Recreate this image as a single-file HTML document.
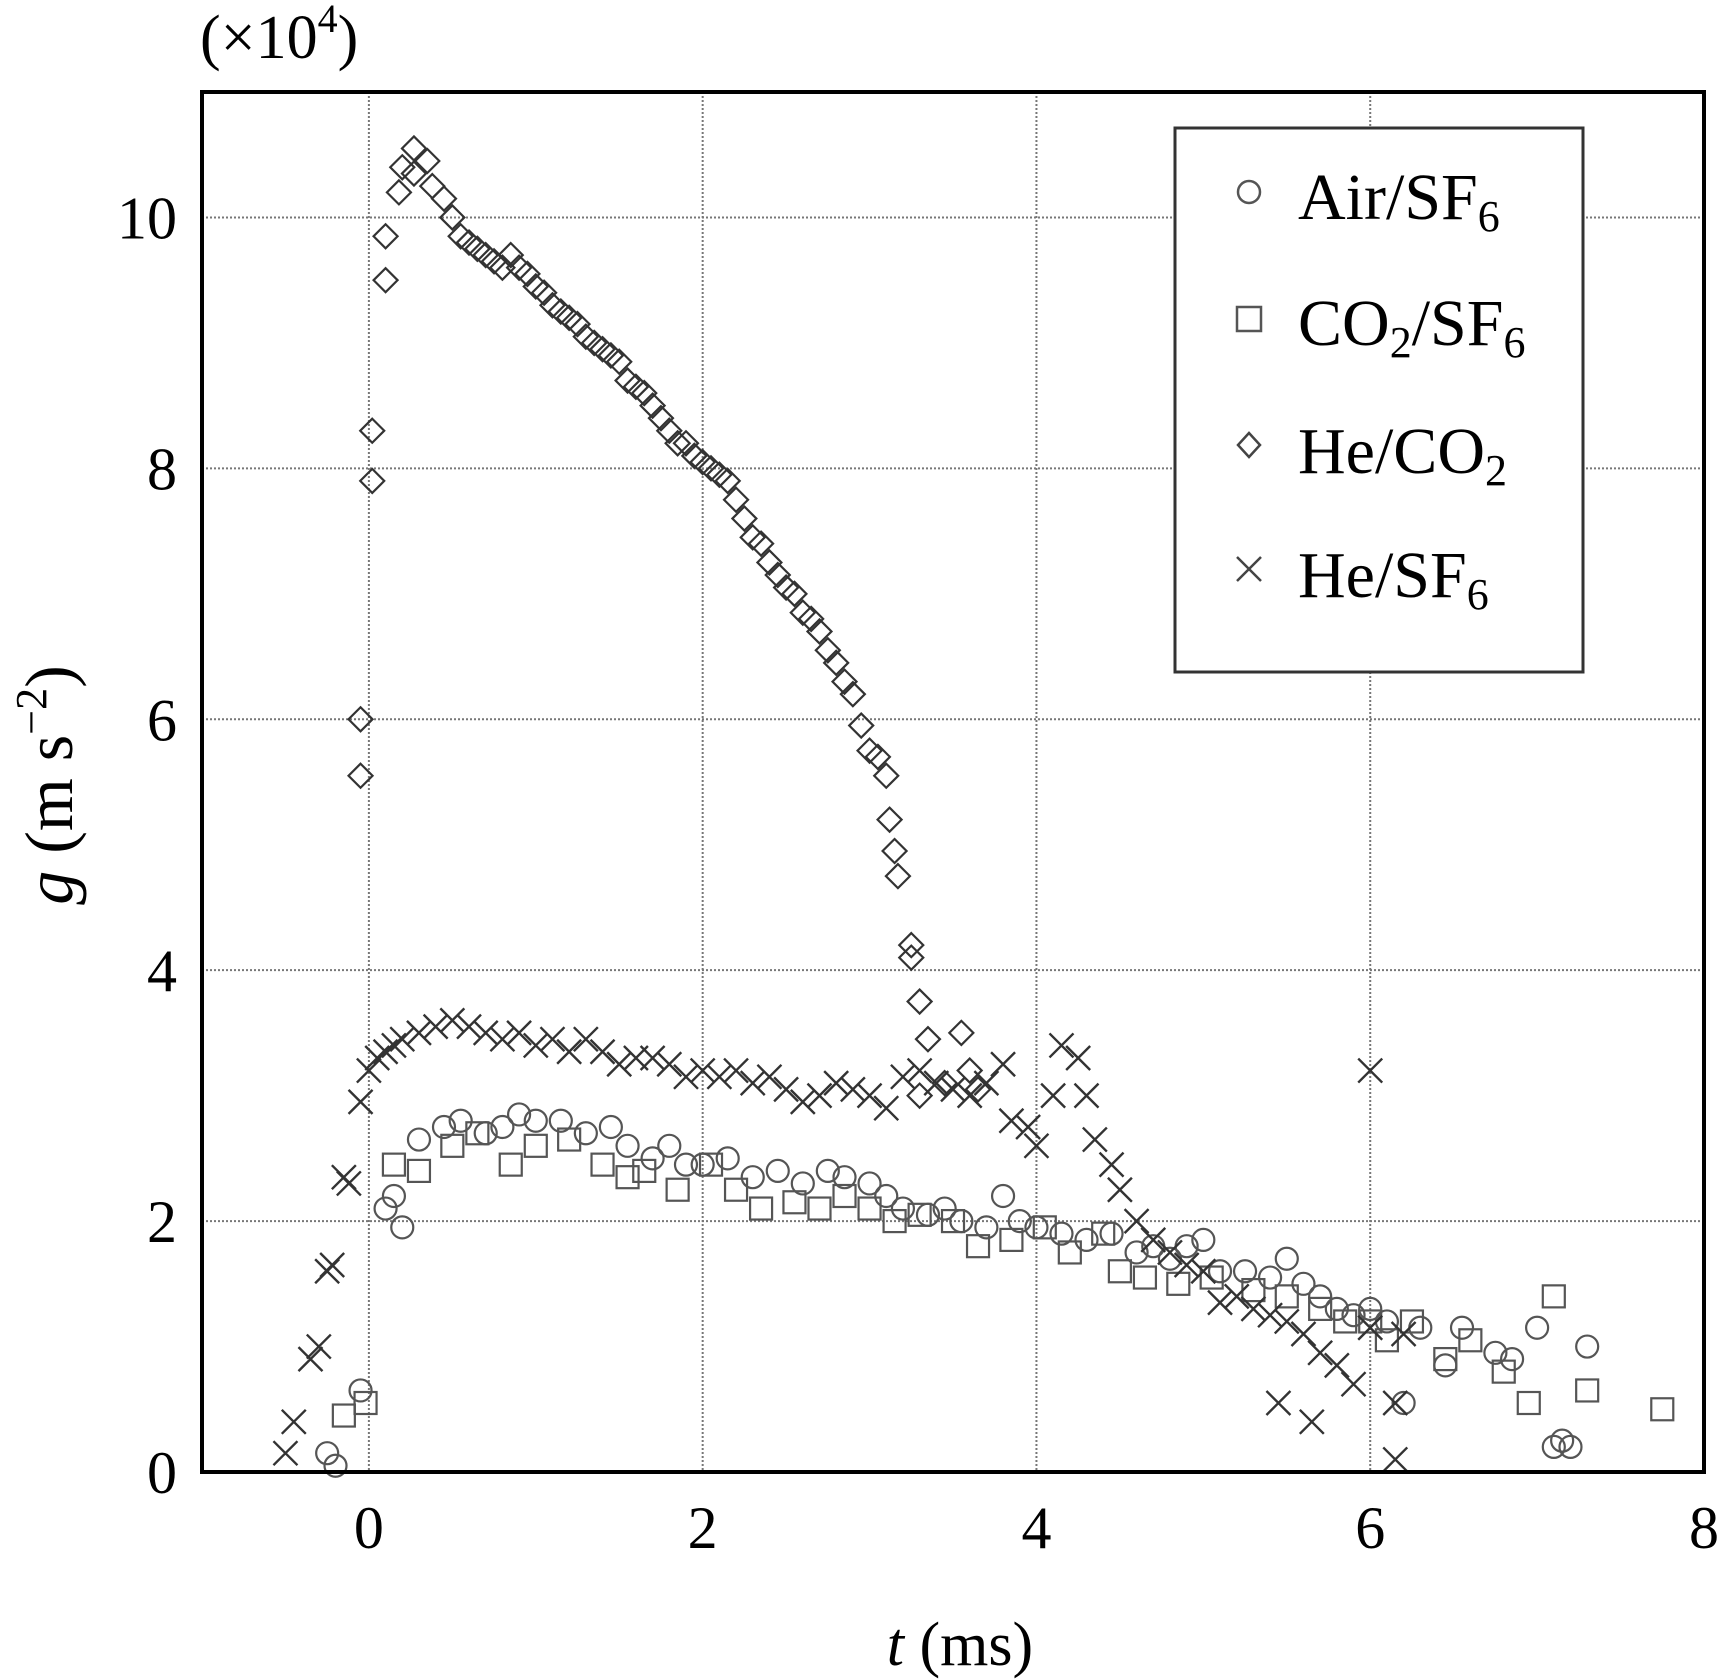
<!DOCTYPE html>
<html><head><meta charset="utf-8"><style>
html,body{margin:0;padding:0;background:#fff;}
svg{display:block;font-family:"Liberation Serif",serif;}
</style></head><body>
<svg id="chart" width="1723" height="1680" viewBox="0 0 1723 1680" xmlns="http://www.w3.org/2000/svg">
<text x="200" y="58" font-size="62">(×10<tspan dy="-26" font-size="40">4</tspan><tspan dy="26">)</tspan></text>
<text transform="translate(72,785) rotate(-90)" text-anchor="middle" font-size="68"><tspan font-style="italic">g</tspan> (m s<tspan dy="-26" font-size="44">−2</tspan><tspan dy="26">)</tspan></text>
<text x="960" y="1665" text-anchor="middle" font-size="62"><tspan font-style="italic">t</tspan> (ms)</text>
<g id="grid"></g><g id="ticks"></g><g id="marks"></g>
<rect x="202" y="92" width="1502" height="1380" fill="none" stroke="#000" stroke-width="4"/>
<g>
<rect x="1175" y="128" width="408" height="544" fill="#fff" stroke="#333" stroke-width="3"/>
<circle cx="1249" cy="192" r="11" fill="none" stroke="#555" stroke-width="2.5"/>
<text x="1298" y="219" font-size="66">Air/SF<tspan dy="12" font-size="44">6</tspan></text>
<rect x="1237" y="307" width="24" height="24" fill="none" stroke="#555" stroke-width="2.5"/>
<text x="1298" y="345" font-size="66">CO<tspan dy="12" font-size="44">2</tspan><tspan dy="-12">/SF</tspan><tspan dy="12" font-size="44">6</tspan></text>
<path d="M1249 433 L1260 445 L1249 457 L1238 445 Z" fill="none" stroke="#444" stroke-width="2.5"/>
<text x="1298" y="473" font-size="66">He/CO<tspan dy="12" font-size="44">2</tspan></text>
<path d="M1237 557 L1261 581 M1261 557 L1237 581" stroke="#444" stroke-width="2.5"/>
<text x="1298" y="597" font-size="66">He/SF<tspan dy="12" font-size="44">6</tspan></text>
</g>
</svg>
<script>
const xTicks=[0,2,4,6,8];
const yTicks=[0,2,4,6,8,10];
const airT=[-0.25,-0.2,-0.05,0.1,0.15,0.2,0.3,0.45,0.55,0.7,0.8,0.9,1.0,1.15,1.3,1.45,1.55,1.7,1.8,1.9,2.0,2.15,2.3,2.45,2.6,2.75,2.85,3.0,3.1,3.2,3.35,3.45,3.55,3.7,3.8,3.9,4.0,4.15,4.3,4.45,4.6,4.7,4.8,4.9,5.0,5.1,5.25,5.4,5.5,5.6,5.7,5.8,5.9,6.0,6.1,6.2,6.3,6.45,6.55,6.75,6.85,7.0,7.1,7.15,7.2,7.3];
const airG=[0.15,0.05,0.65,2.1,2.2,1.95,2.65,2.75,2.8,2.7,2.75,2.85,2.8,2.8,2.7,2.75,2.6,2.5,2.6,2.45,2.45,2.5,2.35,2.4,2.3,2.4,2.35,2.3,2.2,2.1,2.05,2.1,2.0,1.95,2.2,2.0,1.95,1.9,1.85,1.9,1.75,1.8,1.7,1.8,1.85,1.6,1.6,1.55,1.7,1.5,1.4,1.3,1.25,1.3,1.2,0.55,1.15,0.85,1.15,0.95,0.9,1.15,0.2,0.25,0.2,1.0];
const co2T=[-0.15,-0.02,0.15,0.3,0.5,0.65,0.85,1.0,1.2,1.4,1.55,1.65,1.85,2.05,2.2,2.35,2.55,2.7,2.85,3.0,3.15,3.3,3.5,3.65,3.85,4.05,4.2,4.4,4.5,4.65,4.85,5.05,5.3,5.5,5.7,5.85,6.0,6.1,6.25,6.45,6.6,6.8,6.95,7.1,7.3,7.75];
const co2G=[0.45,0.55,2.45,2.4,2.6,2.7,2.45,2.6,2.65,2.45,2.35,2.4,2.25,2.45,2.25,2.1,2.15,2.1,2.2,2.1,2.0,2.05,2.0,1.8,1.85,1.95,1.75,1.9,1.6,1.55,1.5,1.55,1.45,1.4,1.3,1.2,1.2,1.05,1.2,0.9,1.05,0.8,0.55,1.4,0.65,0.5];
const heco2T=[-0.05,-0.05,0.02,0.02,0.1,0.1,0.18,0.2,0.27,0.27,0.35,0.38,0.45,0.5,0.55,0.6,0.65,0.7,0.75,0.8,0.85,0.9,0.95,1.0,1.05,1.1,1.15,1.2,1.25,1.3,1.35,1.4,1.45,1.5,1.55,1.6,1.65,1.7,1.75,1.8,1.85,1.9,1.95,2.0,2.05,2.1,2.15,2.2,2.25,2.3,2.35,2.4,2.45,2.5,2.55,2.6,2.65,2.7,2.75,2.8,2.85,2.9,2.95,3.0,3.05,3.1,3.12,3.15,3.17,3.25,3.25,3.3,3.35,3.45,3.55,3.6,3.65,3.3];
const heco2G=[5.55,6.0,7.9,8.3,9.5,9.85,10.2,10.4,10.35,10.55,10.45,10.25,10.15,10.0,9.85,9.8,9.75,9.7,9.65,9.6,9.7,9.6,9.55,9.45,9.4,9.3,9.25,9.2,9.15,9.05,9.0,8.95,8.9,8.85,8.7,8.65,8.6,8.5,8.4,8.3,8.2,8.2,8.1,8.05,8.0,7.95,7.9,7.75,7.6,7.45,7.4,7.25,7.15,7.05,7.0,6.85,6.8,6.7,6.55,6.45,6.3,6.2,5.95,5.75,5.7,5.55,5.2,4.95,4.75,4.2,4.1,3.75,3.45,3.1,3.5,3.2,3.05,3.0];
const hesf6T=[-0.5,-0.45,-0.35,-0.3,-0.25,-0.22,-0.15,-0.12,-0.05,0,0.05,0.1,0.15,0.2,0.3,0.4,0.5,0.6,0.7,0.8,0.9,1.0,1.1,1.2,1.3,1.4,1.5,1.6,1.7,1.8,1.9,2.0,2.1,2.2,2.3,2.4,2.5,2.6,2.7,2.8,2.9,3.0,3.1,3.2,3.3,3.4,3.5,3.6,3.7,3.8,3.85,3.95,4.0,4.1,4.15,4.25,4.3,4.35,4.45,4.5,4.6,4.7,4.8,4.9,5.0,5.1,5.2,5.3,5.4,5.45,5.5,5.6,5.65,5.7,5.8,5.9,6.0,6.0,6.15,6.15,6.2];
const hesf6G=[0.15,0.4,0.9,1.0,1.6,1.65,2.35,2.3,2.95,3.2,3.3,3.35,3.4,3.45,3.5,3.55,3.6,3.55,3.5,3.45,3.5,3.4,3.45,3.35,3.45,3.35,3.25,3.3,3.3,3.25,3.15,3.2,3.15,3.2,3.1,3.15,3.05,2.95,3.0,3.1,3.05,3.0,2.9,3.15,3.2,3.1,3.05,3.0,3.1,3.25,2.8,2.75,2.6,3.0,3.4,3.3,3.0,2.65,2.45,2.25,2.0,1.85,1.75,1.65,1.6,1.35,1.4,1.3,1.25,0.55,1.2,1.1,0.4,0.95,0.85,0.7,3.2,1.15,0.55,0.1,1.1];

const NS='http://www.w3.org/2000/svg';
const L=202,R=1704,T=92,B=1472,xmin=-1,xmax=8,ymin=0,ymax=11;
function sx(v){return L+(v-xmin)/(xmax-xmin)*(R-L);}
function sy(v){return B-(v-ymin)/(ymax-ymin)*(B-T);}
function mk(tag,attrs,parent){const e=document.createElementNS(NS,tag);for(const k in attrs)e.setAttribute(k,attrs[k]);parent.appendChild(e);return e;}
const grid=document.getElementById('grid'),ticks=document.getElementById('ticks'),marks=document.getElementById('marks');
xTicks.forEach(v=>{
  if(v<xmax){const g=mk('line',{x1:sx(v),x2:sx(v),y1:T,y2:B,stroke:'#777','stroke-width':2,'stroke-dasharray':'2,2'},grid);
  
  }
  const t=mk('text',{x:sx(v),y:1548,'text-anchor':'middle','font-size':60},ticks);t.textContent=v;
  
  
});
yTicks.forEach(v=>{
  if(v>ymin){const g=mk('line',{x1:L,x2:R,y1:sy(v),y2:sy(v),stroke:'#777','stroke-width':2,'stroke-dasharray':'2,2'},grid);
  
  }
  const t=mk('text',{x:177,y:sy(v)+21,'text-anchor':'end','font-size':60},ticks);t.textContent=v;
  
  
});
airT.forEach((t,i)=>{const x=sx(t),y=sy(airG[i]);
  const e=mk('circle',{cx:x,cy:y,r:11,fill:'none',stroke:'#555','stroke-width':2.2},marks);
  
  });
co2T.forEach((t,i)=>{const x=sx(t),y=sy(co2G[i]);
  const e=mk('rect',{x:x-11,y:y-11,width:22,height:22,fill:'none',stroke:'#555','stroke-width':2.2},marks);
  
  });
heco2T.forEach((t,i)=>{const x=sx(t),y=sy(heco2G[i]);
  const e=mk('path',{d:`M${x} ${y-12} L${x+12} ${y} L${x} ${y+12} L${x-12} ${y} Z`,fill:'none',stroke:'#333','stroke-width':2.2},marks);
  
  });
hesf6T.forEach((t,i)=>{const x=sx(t),y=sy(hesf6G[i]);
  const e=mk('path',{d:`M${x-12} ${y-12} L${x+12} ${y+12} M${x+12} ${y-12} L${x-12} ${y+12}`,stroke:'#333','stroke-width':2.4},marks);
  
  });
</script>
</body></html>
